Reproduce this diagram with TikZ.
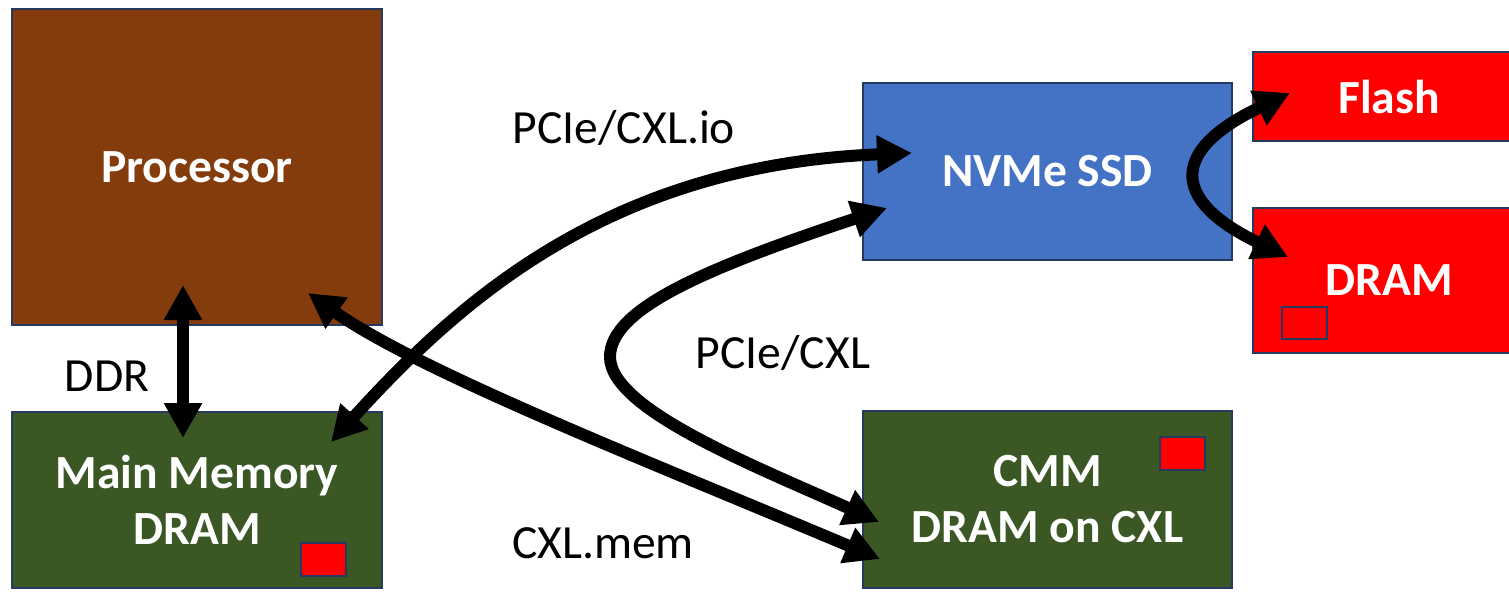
\documentclass[tikz,border=0pt]{standalone}
\usepackage{fontspec}
\setmainfont{Carlito}
\usetikzlibrary{arrows.meta}
\definecolor{procbrown}{HTML}{843C0C}
\definecolor{memgreen}{HTML}{3A5724}
\definecolor{ssdblue}{HTML}{4472C4}
\definecolor{chipred}{HTML}{FF0000}
\definecolor{edgenavy}{HTML}{253A5E}
\tikzset{
  block/.style={draw=edgenavy, line width=1pt, inner sep=0pt, align=center,
    text=white, font=\fontsize{23.8}{28}\selectfont\bfseries},
  chip/.style={draw=edgenavy, line width=1.2pt, fill=chipred},
  tag/.style={font=\fontsize{23.8}{28}\selectfont, text=black, inner sep=0pt},
  link/.style={line width=6pt, {Triangle[length=17.5pt,width=18pt]}-{Triangle[length=17.5pt,width=18pt]}},
}
\begin{document}
\begin{tikzpicture}[x=0.5pt,y=-0.5pt]
\useasboundingbox (0,0) rectangle (1509,591);

% blocks
\node[block, fill=procbrown, minimum width=185pt, minimum height=158pt] (proc) at (197,167) {Processor};
\node[block, fill=memgreen, minimum width=185pt, minimum height=88pt] (mem) at (197,500) {Main Memory\\DRAM};
\node[block, fill=ssdblue, minimum width=184.5pt, minimum height=88.5pt] (ssd) at (1047.5,171.5) {NVMe SSD};
\node[block, fill=memgreen, minimum width=184.5pt, minimum height=88.5pt] (cmm) at (1047.5,499.5) {CMM\\DRAM on CXL};
\node[block, fill=chipred, minimum width=136pt, minimum height=44.5pt] (flash) at (1389,96.5) {Flash};
\node[block, fill=chipred, minimum width=136pt, minimum height=72.5pt] (dram) at (1389,280.5) {DRAM};

% small memory chips
\node[chip, minimum width=22.5pt, minimum height=16.5pt, inner sep=0pt] (memchip) at (323.5,559.5) {};
\node[chip, minimum width=22.5pt, minimum height=16.5pt, inner sep=0pt] (cmmchip) at (1182.5,453.5) {};
\node[draw=edgenavy, line width=1.2pt, minimum width=22.5pt, minimum height=16pt, inner sep=0pt] (dramchip) at (1304.5,323) {};

% link labels
\node[tag] (lddr) at (107,376) {DDR};
\node[tag] (lio) at (624,128) {PCIe/CXL.io};
\node[tag] (lcxl) at (783,353) {PCIe/CXL};
\node[tag] (lmem) at (603,543) {CXL.mem};

% arrow end points
\coordinate (procDDR) at (183,285);
\coordinate (memDDR) at (183,438);
\coordinate (memIO) at (331,442);
\coordinate (ssdIO) at (912,153);
\coordinate (procMEM) at (308,293);
\coordinate (cmmMEM) at (880,559);
\coordinate (ssdCXL) at (887,208);
\coordinate (cmmCXL) at (879,522);
\coordinate (ssdFlash) at (1290,93);
\coordinate (ssdDram) at (1288,257);

% connectors
\draw[link] (procDDR) -- (memDDR);
\draw[link] (memIO) .. controls (460,300) and (610,165) .. (ssdIO);
\draw[link] (procMEM) .. controls (420,372) and (650,462) .. (cmmMEM);
\draw[link] (ssdCXL) .. controls (700,270) and (610,310) .. (610,357)
                     .. controls (610,410) and (760,468) .. (cmmCXL);
\draw[link] (ssdFlash) .. controls (1170,150) and (1170,200) .. (ssdDram);
\end{tikzpicture}
\end{document}
